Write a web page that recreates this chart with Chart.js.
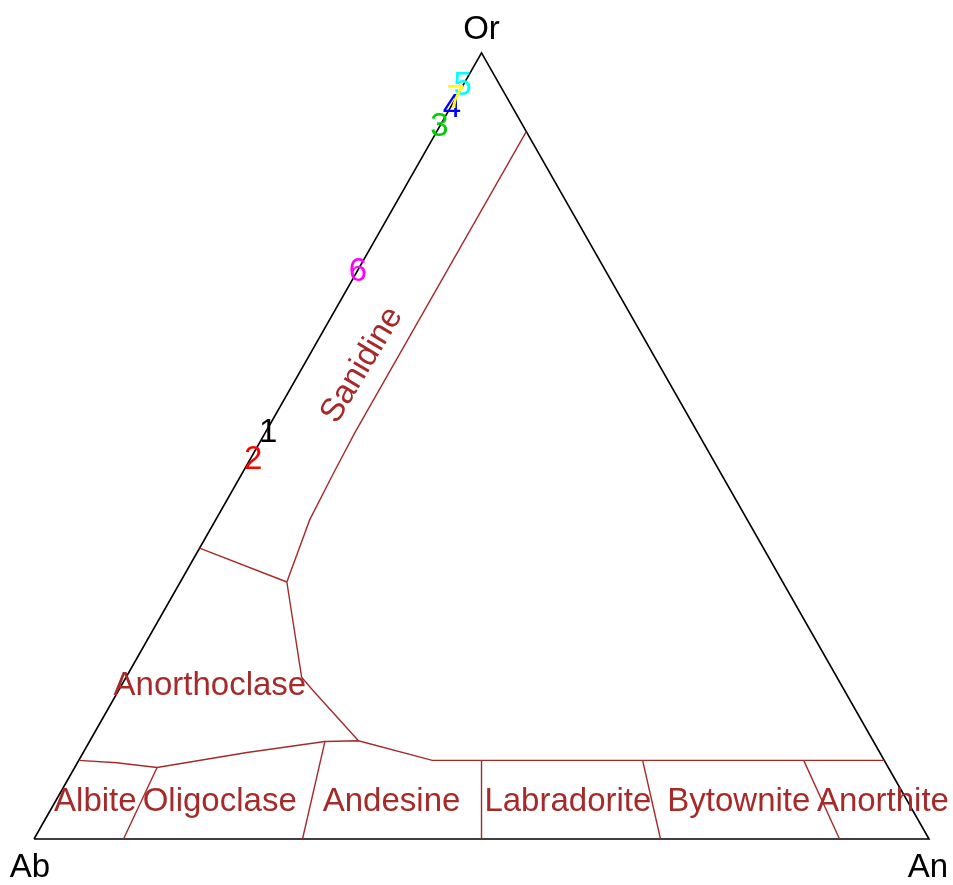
<!DOCTYPE html>
<html>
<head>
<meta charset="utf-8">
<script src="https://cdn.jsdelivr.net/npm/chart.js@4/dist/chart.umd.min.js"></script>
<style>
  html, body { margin: 0; padding: 0; background: #fff; }
  #wrap { width: 953px; height: 885px; position: relative; }
</style>
</head>
<body>
<div id="wrap"><canvas id="chart"></canvas></div>
<script>
// compositions are [Ab, An, Or] in percent
const sampleLabels = ['1', '2', '3', '4', '5', '6', '7'];
const sampleAb = [48.0, 51.4, 9.4, 6.8, 4.2, 27.7, 5.8];
const sampleAn = [0.3, 0.4, 0.0, 0.2, 0.0, 0.1, 0.0];
const sampleOr = [51.7, 48.2, 90.6, 93.0, 95.8, 72.2, 94.2];
const sampleColors = ['#000000', '#FF0000', '#00CD00', '#0000FF', '#00FFFF', '#FF00FF', '#FFFF00'];

const outline = [[100, 0, 0], [0, 100, 0], [0, 0, 100], [100, 0, 0]];

const sanidineEdge = [[0, 10, 90], [38.3, 10, 51.7], [43.4, 10.2, 46.4], [48.9, 10.5, 40.6], [55.4, 11.9, 32.7]];
const anorthoclaseTop = [[63, 0, 37], [55.4, 11.9, 32.7]];
const anorthoclaseEdge = [[55.4, 11.9, 32.7], [59.8, 19.6, 20.6], [59.4, 21.6, 19.0], [57.5, 30.0, 12.5]];
const plagioclaseTop = [[90, 0, 10], [85.9, 4.4, 9.7], [81.7, 9.2, 9.1], [70.7, 18.3, 11.0], [61.3, 26.3, 12.4],
  [57.5, 30.0, 12.5], [50.5, 39.5, 10], [0, 90, 10]];
const plagioclaseSplits = [
  [[90, 10, 0], [81.7, 9.2, 9.1]],
  [[70, 30, 0], [61.3, 26.3, 12.4]],
  [[50, 50, 0], [45, 45, 10]],
  [[30, 70, 0], [27, 63, 10]],
  [[10, 90, 0], [9, 81, 10]]
];

const fieldNames = ['Sanidine', 'Anorthoclase', 'Albite', 'Oligoclase', 'Andesine', 'Labradorite', 'Bytownite', 'Anorthite'];
const fieldSpots = [[33.2, 6.5, 60.3], [70.6, 9.9, 19.5], [90.8, 4.5, 4.7], [76.9, 18.4, 4.7],
  [57.7, 37.6, 4.7], [38.0, 57.3, 4.7], [18.9, 76.4, 4.7], [2.8, 92.5, 4.7]];
const fieldAngles = [-59, 0, 0, 0, 0, 0, 0, 0];

const vertexNames = ['Or', 'Ab', 'An'];

// ternary -> cartesian (x across the base, y = Or fraction)
function tern(c) {
    const s = c[0] + c[1] + c[2];
    return { x: (c[1] + c[2] / 2) / s, y: c[2] / s };
}

const BROWN = '#A52A2A';
const FONT = '"Liberation Sans", Arial, sans-serif';

function lineSet(pts, color, width) {
    return {
        data: pts.map(tern),
        showLine: true,
        borderColor: color,
        borderWidth: width,
        pointRadius: 0,
        fill: false,
        tension: 0
    };
}

const datasets = [];
datasets.push(lineSet(sanidineEdge, BROWN, 1.4));
datasets.push(lineSet(anorthoclaseTop, BROWN, 1.4));
datasets.push(lineSet(anorthoclaseEdge, BROWN, 1.4));
datasets.push(lineSet(plagioclaseTop, BROWN, 1.4));
plagioclaseSplits.forEach(s => datasets.push(lineSet(s, BROWN, 1.4)));
datasets.push(lineSet(outline, '#000000', 1.6));
datasets.push({
    label: 'samples',
    data: sampleAb.map((ab, i) => tern([ab, sampleAn[i], sampleOr[i]])),
    pointRadius: 0,
    showLine: false
});

const textPlugin = {
    id: 'ternaryText',
    afterDatasetsDraw(chart) {
        const ctx = chart.ctx;
        const xs = chart.scales.x, ys = chart.scales.y;
        ctx.save();
        ctx.font = '33px ' + FONT;
        ctx.textAlign = 'center';
        ctx.textBaseline = 'middle';

        // field names
        ctx.fillStyle = BROWN;
        fieldNames.forEach((name, i) => {
            const p = tern(fieldSpots[i]);
            ctx.save();
            ctx.translate(xs.getPixelForValue(p.x), ys.getPixelForValue(p.y));
            ctx.rotate(fieldAngles[i] * Math.PI / 180);
            ctx.fillText(name, 0, 0);
            ctx.restore();
        });

        // corner names
        ctx.fillStyle = '#000000';
        ctx.fillText(vertexNames[0], xs.getPixelForValue(0.5), ys.getPixelForValue(1) - 23);
        ctx.fillText(vertexNames[1], xs.getPixelForValue(0) - 4, ys.getPixelForValue(0) + 29);
        ctx.fillText(vertexNames[2], xs.getPixelForValue(1) - 1, ys.getPixelForValue(0) + 29);

        // sample numbers
        const meta = chart.getDatasetMeta(chart.data.datasets.length - 1);
        meta.data.forEach((pt, i) => {
            ctx.fillStyle = sampleColors[i];
            ctx.fillText(sampleLabels[i], pt.x, pt.y);
        });
        ctx.restore();
    }
};

new Chart(document.getElementById('chart'), {
    type: 'scatter',
    data: { datasets: datasets },
    options: {
        responsive: true,
        maintainAspectRatio: false,
        animation: false,
        devicePixelRatio: 1,
        layout: { padding: 0 },
        scales: {
            x: { type: 'linear', min: -0.038, max: 1.0268, display: false },
            y: { type: 'linear', min: -0.0585, max: 1.0674, display: false }
        },
        plugins: {
            legend: { display: false },
            tooltip: { enabled: false }
        }
    },
    plugins: [textPlugin]
});
</script>
</body>
</html>
